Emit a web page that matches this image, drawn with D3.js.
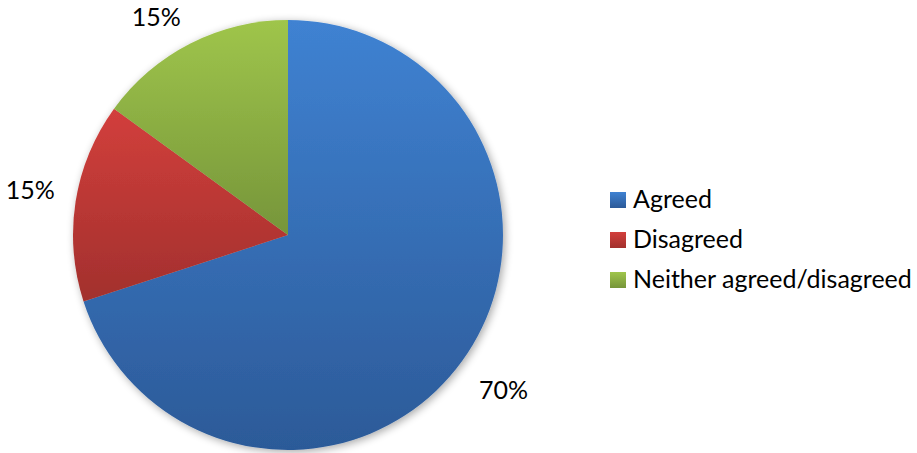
<!DOCTYPE html>
<html><head><meta charset="utf-8">
<script src="https://cdn.jsdelivr.net/npm/d3@7"></script>
<style>body{margin:0;background:#fff}svg{display:block}text{font-family:Lato,"Open Sans",sans-serif;fill:#000}</style>
</head><body>
<script>
const categories = ["Agreed", "Disagreed", "Neither agreed/disagreed"];
const values = [70, 15, 15];
const labels = ["70%", "15%", "15%"];
const colorsTop = ["#3f82d2", "#d23f3c", "#9fc54b"];
const colorsBottom = ["#2c5a98", "#a2302d", "#76953a"];

const W = 917, H = 453, cx = 288, cy = 235, R = 215;
const svg = d3.select("body").append("svg").attr("width", W).attr("height", H);
const defs = svg.append("defs");
const f = defs.append("filter").attr("id","sh").attr("x","-20%").attr("y","-20%").attr("width","140%").attr("height","140%");
f.append("feGaussianBlur").attr("in","SourceAlpha").attr("stdDeviation",4).attr("result","b");
f.append("feOffset").attr("in","b").attr("dx",2).attr("dy",2).attr("result","o");
f.append("feComponentTransfer").attr("in","o").attr("result","o2").append("feFuncA").attr("type","linear").attr("slope",0.35);
const m = f.append("feMerge"); m.append("feMergeNode").attr("in","o2"); m.append("feMergeNode").attr("in","SourceGraphic");

categories.forEach((c,i)=>{
  const g = defs.append("linearGradient").attr("id","g"+i).attr("x1",0).attr("y1",0).attr("x2",0).attr("y2",1);
  g.append("stop").attr("offset","0%").attr("stop-color",colorsTop[i]);
  g.append("stop").attr("offset","100%").attr("stop-color",colorsBottom[i]);
});

const pie = d3.pie().sort(null).value(d=>d)(values);
const arc = d3.arc().innerRadius(0).outerRadius(R);
const gp = svg.append("g").attr("transform",`translate(${cx},${cy})`).attr("filter","url(#sh)");
gp.selectAll("path").data(pie).join("path").attr("d",arc).attr("fill",(d,i)=>`url(#g${i})`);

// outside-end labels: nearest corner of the label box sits on a circle just outside the pie
const LR = 236;
svg.append("g").attr("transform",`translate(${cx},${cy})`).selectAll("text").data(pie).join("text")
  .each(function(d,i){
    const a = (d.startAngle + d.endAngle)/2;
    const px = LR*Math.sin(a), py = -LR*Math.cos(a);
    const t = d3.select(this).style("font-size","25px").text(labels[i])
      .attr("text-anchor", Math.sin(a) < 0 ? "end" : "start")
      .attr("x", px)
      .attr("y", Math.cos(a) > 0 ? py + 1 : py + 25);
  });

const leg = svg.append("g").attr("transform","translate(610,192)");
categories.forEach((c,i)=>{
  const y = i*40;
  leg.append("rect").attr("x",0).attr("y",y).attr("width",16).attr("height",16).attr("fill",`url(#g${i})`);
  leg.append("text").attr("x",23).attr("y",y+16).style("font-size","25px").text(c);
});
</script>
</body></html>
